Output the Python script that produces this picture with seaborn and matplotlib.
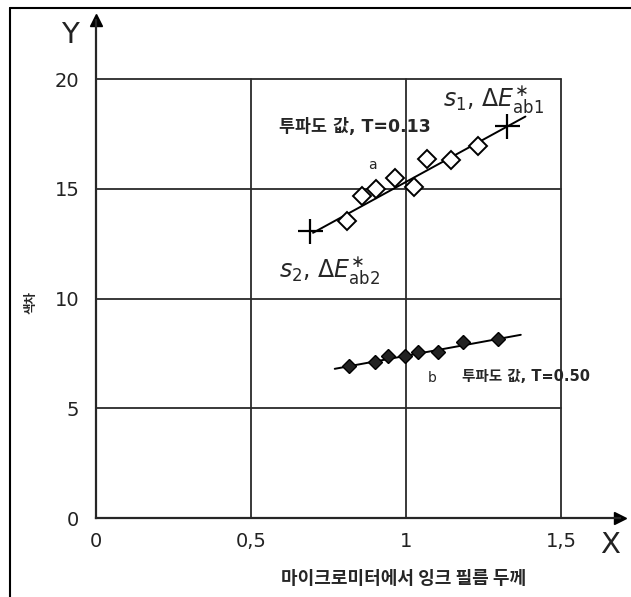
import numpy as np
import pandas as pd
import seaborn as sns
import matplotlib.pyplot as plt
from matplotlib.lines import Line2D

# data
a_x = [0.81, 0.857, 0.903, 0.965, 1.024, 1.067, 1.145, 1.233]
a_y = [13.55, 14.7, 15.0, 15.5, 15.1, 16.35, 16.3, 16.95]
cross_x = [0.69, 1.325]
cross_y = [13.1, 17.85]
a_line_x = [0.70, 1.385]
a_line_y = [13.0, 18.3]

b_x = [0.817, 0.90, 0.943, 0.997, 1.04, 1.104, 1.185, 1.298]
b_y = [6.95, 7.1, 7.4, 7.4, 7.55, 7.55, 8.0, 8.15]
b_line_x = [0.77, 1.37]
b_line_y = [6.8, 8.35]

x_ticks = [0, 0.5, 1, 1.5]
x_labels = ["0", "0,5", "1", "1,5"]
y_ticks = [0, 5, 10, 15, 20]
y_labels = ["0", "5", "10", "15", "20"]

sns.set_style("white")
plt.rcParams['font.family'] = ['DejaVu Sans', 'Noto Sans CJK KR']
kr = ['Noto Sans CJK KR', 'DejaVu Sans']
mix = ['DejaVu Sans', 'Noto Sans CJK KR']

W, H = 631, 597
fig = plt.figure(figsize=(W / 100, H / 100), dpi=100)
ax = fig.add_axes([96 / W, (H - 518) / H, (620 - 96) / W, (518 - 20) / H])
ax.set_xlim(0, 1.69)
ax.set_ylim(0, 22.7)

# grid lines only inside the 0..1.5 x 0..20 box
for xv in x_ticks[1:]:
    ax.plot([xv, xv], [0, 20], color="#2a2a2a", lw=1.3, zorder=1)
for yv in y_ticks[1:]:
    ax.plot([0, 1.5], [yv, yv], color="#2a2a2a", lw=1.3, zorder=1)

df_a = pd.DataFrame({"x": a_x, "y": a_y})
df_b = pd.DataFrame({"x": b_x, "y": b_y})

sns.lineplot(x=a_line_x, y=a_line_y, color="black", lw=1.4, ax=ax, zorder=3)
sns.lineplot(x=b_line_x, y=b_line_y, color="black", lw=1.4, ax=ax, zorder=3)
ax.plot(df_a["x"], df_a["y"], "D", ms=9.5, mfc="white", mec="black", mew=1.4, zorder=4)
ax.plot(df_b["x"], df_b["y"], "D", ms=7, mfc="#222222", mec="black", mew=1, zorder=4)
ax.plot(cross_x, cross_y, "+", ms=18, mec="black", mew=1.6, zorder=5)

# axes with arrows
sns.despine(ax=ax)
ax.spines["left"].set_linewidth(1.6)
ax.spines["bottom"].set_linewidth(1.6)
ax.plot(1, 0, ">", color="black", ms=8, transform=ax.get_yaxis_transform(), clip_on=False)
ax.plot(0, 1, "^", color="black", ms=8, transform=ax.get_xaxis_transform(), clip_on=False)

ax.set_xticks(x_ticks, x_labels)
ax.set_yticks(y_ticks, y_labels)
ax.tick_params(length=0, labelsize=14, colors="#222222")
ax.tick_params(axis="x", pad=10)
ax.tick_params(axis="y", pad=12)

fig.text(70 / W, 1 - 35 / H, "Y", fontsize=21, ha="center", va="center", color="#222222")
fig.text(610 / W, 1 - 545 / H, "X", fontsize=21, ha="center", va="center", color="#222222")

ax.text(1.12, 19.1, r"$s_1$, $\Delta E^{\ast}_{\rm ab1}$", fontsize=17, ha="left", va="center")
ax.text(0.59, 11.3, r"$s_2$, $\Delta E^{\ast}_{\rm ab2}$", fontsize=17, ha="left", va="center")
ax.text(0.59, 17.8, "투파도 값, T=0.13", family=mix, fontsize=12.5, fontweight="semibold",
        ha="left", va="center")
ax.text(0.89, 16.1, "a", fontsize=10, ha="center", va="center")
ax.text(1.085, 6.4, "b", fontsize=10, ha="center", va="center")
ax.text(1.18, 6.45, "투파도 값, T=0.50", family=mix, fontsize=10.5, fontweight="semibold",
        ha="left", va="center")

fig.text(31 / W, 1 - 303 / H, "색차", family=kr, fontsize=9, fontweight="bold",
         rotation=90, ha="center", va="center")
fig.text(404 / W, 1 - 578 / H, "마이크로미터에서 잉크 필름 두께", family=kr, fontsize=13,
         fontweight="bold", ha="center", va="center")

# outer frame (left and top)
fig.add_artist(Line2D([10 / W, 10 / W], [0, 1 - 8 / H], color="black", lw=1.5))
fig.add_artist(Line2D([10 / W, 1], [1 - 8 / H, 1 - 8 / H], color="black", lw=1.5))

fig.savefig("out.png", dpi=100)
